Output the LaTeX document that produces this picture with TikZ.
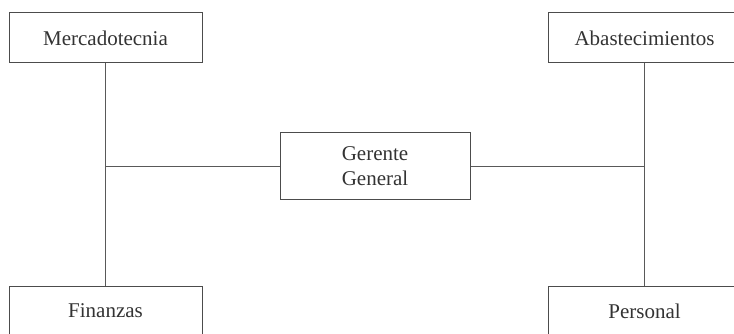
\documentclass[tikz,border=0pt]{standalone}
\usepackage{fontspec}
\setmainfont{Liberation Serif}
\usepackage{tikz}
\usetikzlibrary{positioning}

\begin{document}
\begin{tikzpicture}[
    x=1pt, y=-1pt,
    font=\fontsize{21}{25}\selectfont,
    area/.style={
        draw=black!70,
        text=black!80,
        minimum width=193pt,
        minimum height=50pt,
        inner sep=0pt,
        line width=1pt
    },
    gerencia/.style={
        draw=black!70,
        text=black!80,
        minimum width=190pt,
        minimum height=67pt,
        align=center,
        line width=1pt
    },
    linea/.style={
        draw=black!65,
        line width=1pt
    }
]

\clip (0,0) rectangle (734,334);

% Boxes
\node[gerencia] (gerente) at (375,166.5) {Gerente\\General};

\node[area] (mercado) at (105.5,38) {Mercadotecnia};
\node[area] (abaste) at (644.5,38) {Abastecimientos};
\node[area] (finanzas) at (105.5,311) {Finanzas};
\node[area] (personal) at (644.5,311) {Personal};

% Lines
\draw[linea] (mercado.south) -- (finanzas.north);
\draw[linea] (abaste.south) -- (personal.north);
\draw[linea] (gerente.west) -- (mercado.south |- gerente.west);
\draw[linea] (gerente.east) -- (abaste.south |- gerente.east);

\end{tikzpicture}
\end{document}
